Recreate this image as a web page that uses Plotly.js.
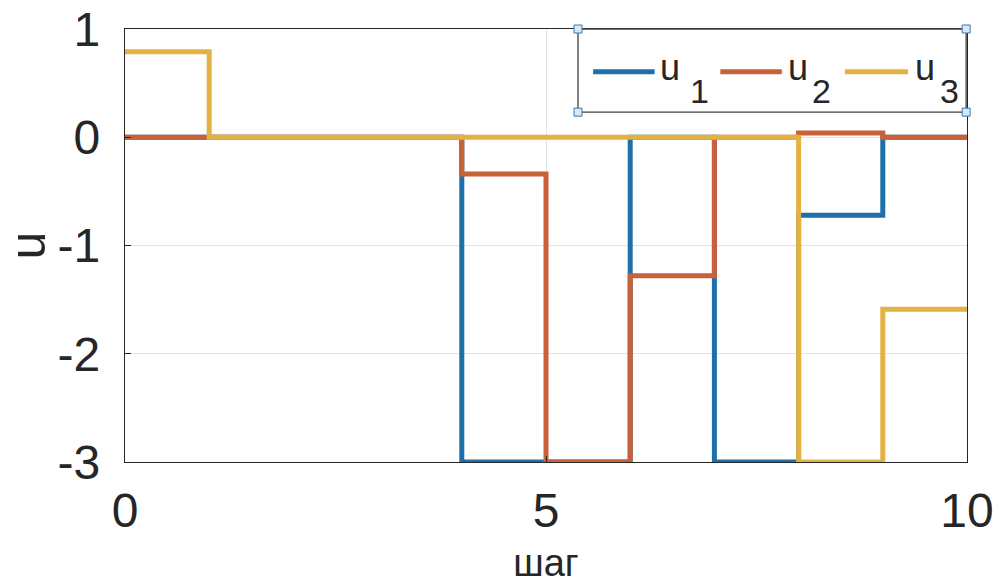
<!DOCTYPE html>
<html><head><meta charset="utf-8">
<script src="https://cdn.plot.ly/plotly-3.0.1.min.js"></script>
<style>body{margin:0;background:#fff}#c{width:1001px;height:584px}</style>
</head><body><div id="c"></div>
<script>
const steps = [0,1,2,3,4,5,6,7,8,9,10];
const u1 = [0,0,0,0,-3,-3,0,-3,-0.72,0,0];
const u2 = [0,0,0,0,-0.34,-3,-1.28,0,0.04,0,0];
const u3 = [0.79,0,0,0,0,0,0,0,-3,-1.59,-1.59];
const seriesBase = ['u','u','u'];
const seriesSub = ['1','2','3'];
const colors = ['#1f6fab','#c8603a','#e2b245'];
const xTicks = [0,5,10];
const yTicks = [-3,-2,-1,0,1];

const FONT = 'Liberation Sans, Arial, sans-serif';
const series = [u1,u2,u3];
const traces = series.map((s,i)=>({
  x: steps, y: s, type:'scatter', mode:'lines',
  line:{shape:'hv', color:colors[i], width:5},
  name: seriesBase[i]+seriesSub[i], showlegend:false
}));

// custom MATLAB-like legend (box, selection handles, samples, labels)
const L = {x0:0.538, x1:0.999, y0:0.808, y1:1.0};
const shapes = [
  {type:'rect', xref:'paper', yref:'paper', x0:L.x0, x1:L.x1, y0:L.y0, y1:L.y1,
   fillcolor:'#ffffff', line:{color:'#404040', width:1.3}, layer:'above'}
];
const sampleX = [[0.556,0.629],[0.707,0.780],[0.855,0.930]];
const baseX = [0.633,0.785,0.936];
const subX = [0.669,0.814,0.965];
sampleX.forEach((sx,i)=>{
  shapes.push({type:'line', xref:'paper', yref:'paper', x0:sx[0], x1:sx[1], y0:0.901, y1:0.901,
    line:{color:colors[i], width:5}, layer:'above'});
});
[[L.x0,L.y0],[L.x0,L.y1],[L.x1,L.y0],[L.x1,L.y1]].forEach(p=>{
  shapes.push({type:'rect', xref:'paper', yref:'paper', xsizemode:'pixel', ysizemode:'pixel',
    xanchor:p[0], yanchor:p[1], x0:-4, x1:4, y0:-4, y1:4,
    fillcolor:'#d6e8f7', line:{color:'#3a78b5', width:1}, layer:'above'});
});
const annotations = [];
seriesBase.forEach((b,i)=>{
  annotations.push({xref:'paper', yref:'paper', x:baseX[i], y:0.912, xanchor:'left', yanchor:'middle',
    text:b, showarrow:false, font:{family:FONT, size:36, color:'#262626'}});
  annotations.push({xref:'paper', yref:'paper', x:subX[i], y:0.857, xanchor:'left', yanchor:'middle',
    text:seriesSub[i], showarrow:false, font:{family:FONT, size:34, color:'#262626'}});
});

const axisCommon = {
  showline:true, mirror:true, linecolor:'#262626', linewidth:1.2,
  showgrid:true, gridcolor:'#e3e3e3', gridwidth:1, zeroline:false,
  ticks:'inside', ticklen:6, tickcolor:'#262626',
  tickfont:{family:FONT, size:48, color:'#262626'}
};
const layout = {
  width:1001, height:584,
  margin:{l:125, r:34, t:29, b:122},
  paper_bgcolor:'#ffffff', plot_bgcolor:'#ffffff',
  xaxis: Object.assign({}, axisCommon, {range:[0,10], tickvals:xTicks, ticktext:xTicks.map(String),
    ticklabelstandoff:6,
    title:{text:'шаг', font:{family:FONT, size:38, color:'#262626'}, standoff:20}}),
  yaxis: Object.assign({}, axisCommon, {range:[-3,1], tickvals:yTicks, ticktext:yTicks.map(String),
    ticklabelstandoff:14,
    title:{text:'u', font:{family:FONT, size:50, color:'#262626'}, standoff:17}}),
  shapes: shapes, annotations: annotations, showlegend:false
};
Plotly.newPlot('c', traces, layout, {displayModeBar:false, staticPlot:true});
</script></body></html>
